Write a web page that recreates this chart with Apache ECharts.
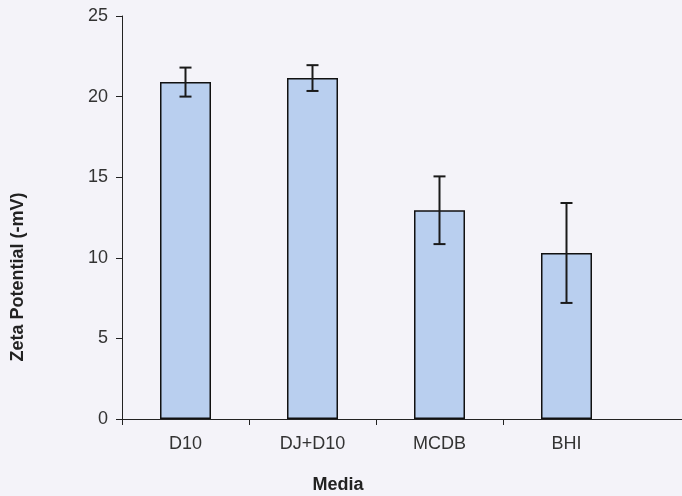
<!DOCTYPE html>
<html>
<head>
<meta charset="utf-8">
<script src="https://cdn.jsdelivr.net/npm/echarts@6/dist/echarts.min.js"></script>
<style>
html,body{margin:0;padding:0;background:#f4f3f9;}
#c{width:682px;height:496px;}
</style>
</head>
<body>
<div id="c"></div>
<script>
var categories = ['D10', 'DJ+D10', 'MCDB', 'BHI'];
var values = [20.9, 21.15, 12.95, 10.3];
var errors = [0.9, 0.8, 2.1, 3.1];
var yTicks = [0, 5, 10, 15, 20, 25];

var chart = echarts.init(document.getElementById('c'));
var errData = categories.map(function (c, i) {
  return [i, values[i] - errors[i], values[i] + errors[i]];
});
var font = '"Liberation Sans", Arial, sans-serif';
var boundaryTicks = categories.map(function (c, i) { return i; });

chart.setOption({
  backgroundColor: '#f4f3f9',
  animation: false,
  grid: [
    { left: 122, right: 52, top: 16, bottom: 77 },
    { left: 122, right: 0, top: 16, bottom: 77 }
  ],
  xAxis: [{
    type: 'category',
    gridIndex: 0,
    data: categories,
    boundaryGap: true,
    axisLine: { lineStyle: { color: '#222', width: 1 } },
    axisTick: { show: false },
    axisLabel: { color: '#333', fontSize: 18, fontFamily: font, margin: 16 },
    splitLine: { show: false }
  }, {
    type: 'value',
    gridIndex: 1,
    min: 0,
    max: 560 / 127,
    axisLine: { show: true, onZero: false, lineStyle: { color: '#222', width: 1 } },
    axisTick: { show: true, length: 6, customValues: boundaryTicks, lineStyle: { color: '#222', width: 1 } },
    axisLabel: { show: false },
    splitLine: { show: false }
  }],
  yAxis: [{
    type: 'value',
    gridIndex: 0,
    min: yTicks[0],
    max: yTicks[yTicks.length - 1],
    interval: 5,
    axisLine: { show: true, lineStyle: { color: '#222', width: 1 } },
    axisTick: { show: true, length: 6, lineStyle: { color: '#222' } },
    axisLabel: { color: '#333', fontSize: 18, fontFamily: font, margin: 14 },
    splitLine: { show: false }
  }, {
    type: 'value',
    gridIndex: 1,
    show: false
  }],
  graphic: [
    {
      type: 'text', x: 18, y: 277, rotation: Math.PI / 2,
      style: { text: 'Zeta Potential (-mV)', font: 'bold 18px ' + font, fill: '#222', align: 'center', verticalAlign: 'middle' }
    },
    {
      type: 'text', x: 338, y: 485,
      style: { text: 'Media', font: 'bold 18px ' + font, fill: '#222', align: 'center', verticalAlign: 'middle' }
    }
  ],
  series: [
    {
      type: 'bar',
      data: values,
      barWidth: 51,
      itemStyle: { color: '#b9cfef', borderColor: '#111', borderWidth: 1.5 }
    },
    {
      type: 'custom',
      data: errData,
      z: 10,
      renderItem: function (params, api) {
        var x = api.value(0);
        var lo = api.coord([x, api.value(1)]);
        var hi = api.coord([x, api.value(2)]);
        var hw = 6;
        var st = { stroke: '#1a1a1a', lineWidth: 2 };
        return {
          type: 'group',
          children: [
            { type: 'line', shape: { x1: hi[0], y1: hi[1], x2: lo[0], y2: lo[1] }, style: st },
            { type: 'line', shape: { x1: hi[0] - hw, y1: hi[1], x2: hi[0] + hw, y2: hi[1] }, style: st },
            { type: 'line', shape: { x1: lo[0] - hw, y1: lo[1], x2: lo[0] + hw, y2: lo[1] }, style: st }
          ]
        };
      }
    }
  ]
});
</script>
</body>
</html>
